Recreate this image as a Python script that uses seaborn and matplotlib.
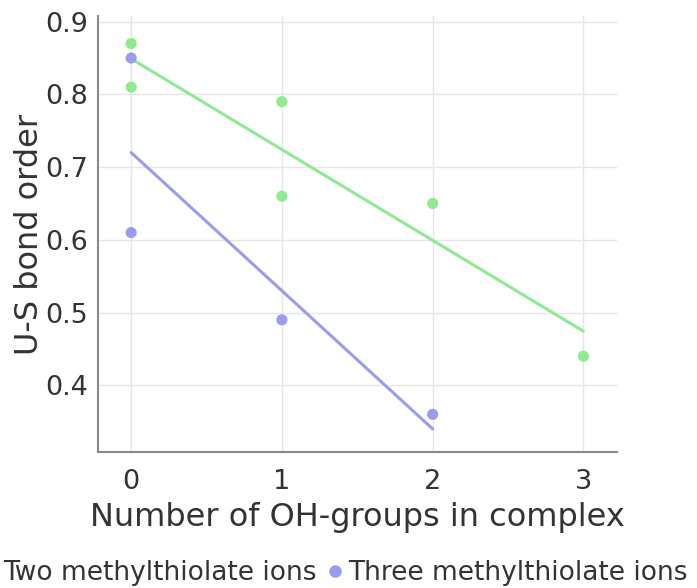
import pandas as pd
import numpy as np
import matplotlib.pyplot as plt
import seaborn as sns
from matplotlib.lines import Line2D

# ---------- DATA ----------
two_oh = [0, 0, 1, 1, 2, 3]
two_bond = [0.87, 0.81, 0.79, 0.66, 0.65, 0.44]

three_oh = [0, 0, 1, 2]
three_bond = [0.85, 0.61, 0.49, 0.36]

series_names = ["Two methylthiolate ions", "Three methylthiolate ions"]
x_ticks = [0, 1, 2, 3]
y_ticks = [0.4, 0.5, 0.6, 0.7, 0.8, 0.9]

green = "#90ea90"
blue = "#9a9cee"

# ---------- PLOT ----------
sns.set_style("white")
plt.rcParams['font.family'] = ['DejaVu Sans']

fig = plt.figure(figsize=(6.97, 5.88), dpi=100)
ax = fig.add_axes([0.1406, 0.231, 0.744, 0.742])

# trend lines
sns.regplot(x=two_oh, y=two_bond, ax=ax, ci=None, scatter=False,
            color=green, line_kws={'linewidth': 2.2})
sns.regplot(x=three_oh, y=three_bond, ax=ax, ci=None, scatter=False,
            color=blue, line_kws={'linewidth': 2.2})

# points
sns.scatterplot(x=two_oh, y=two_bond, ax=ax, color=green, s=65,
                edgecolor='none', zorder=3)
sns.scatterplot(x=three_oh, y=three_bond, ax=ax, color=blue, s=65,
                edgecolor='none', zorder=4)

ax.set_xlim(-0.22, 3.22)
ax.set_ylim(0.308, 0.908)
ax.set_xticks(x_ticks)
ax.set_yticks(y_ticks)
ax.set_xticklabels([str(t) for t in x_ticks])
ax.set_yticklabels([f"{t:.1f}" for t in y_ticks])

ax.grid(True, color="#e6e6e6", linewidth=1)
ax.set_axisbelow(True)
for side in ['top', 'right']:
    ax.spines[side].set_visible(False)
for side in ['left', 'bottom']:
    ax.spines[side].set_color('#8a8a8a')
    ax.spines[side].set_linewidth(1.5)

ax.tick_params(axis='both', colors='#8a8a8a', length=5, width=1,
               labelsize=19.5, labelcolor='#333333')
ax.tick_params(axis='x', pad=7)
ax.tick_params(axis='y', pad=2)

ax.set_xlabel("Number of OH-groups in complex", fontsize=23,
              color='#333333', labelpad=5)
ax.set_ylabel("U-S bond order", fontsize=23, color='#333333', labelpad=0)

# ---------- LEGEND ----------
handles = [
    Line2D([], [], marker='o', linestyle='none', color=green, markersize=8),
    Line2D([], [], marker='o', linestyle='none', color=blue, markersize=8),
]
fig.legend(handles, series_names, loc='center', bbox_to_anchor=(0.4785, 0.025),
           ncol=2, frameon=False, fontsize=19, handletextpad=0.1,
           columnspacing=0.3, handlelength=0.8, labelcolor='#333333')

plt.savefig("out.png", dpi=100)
